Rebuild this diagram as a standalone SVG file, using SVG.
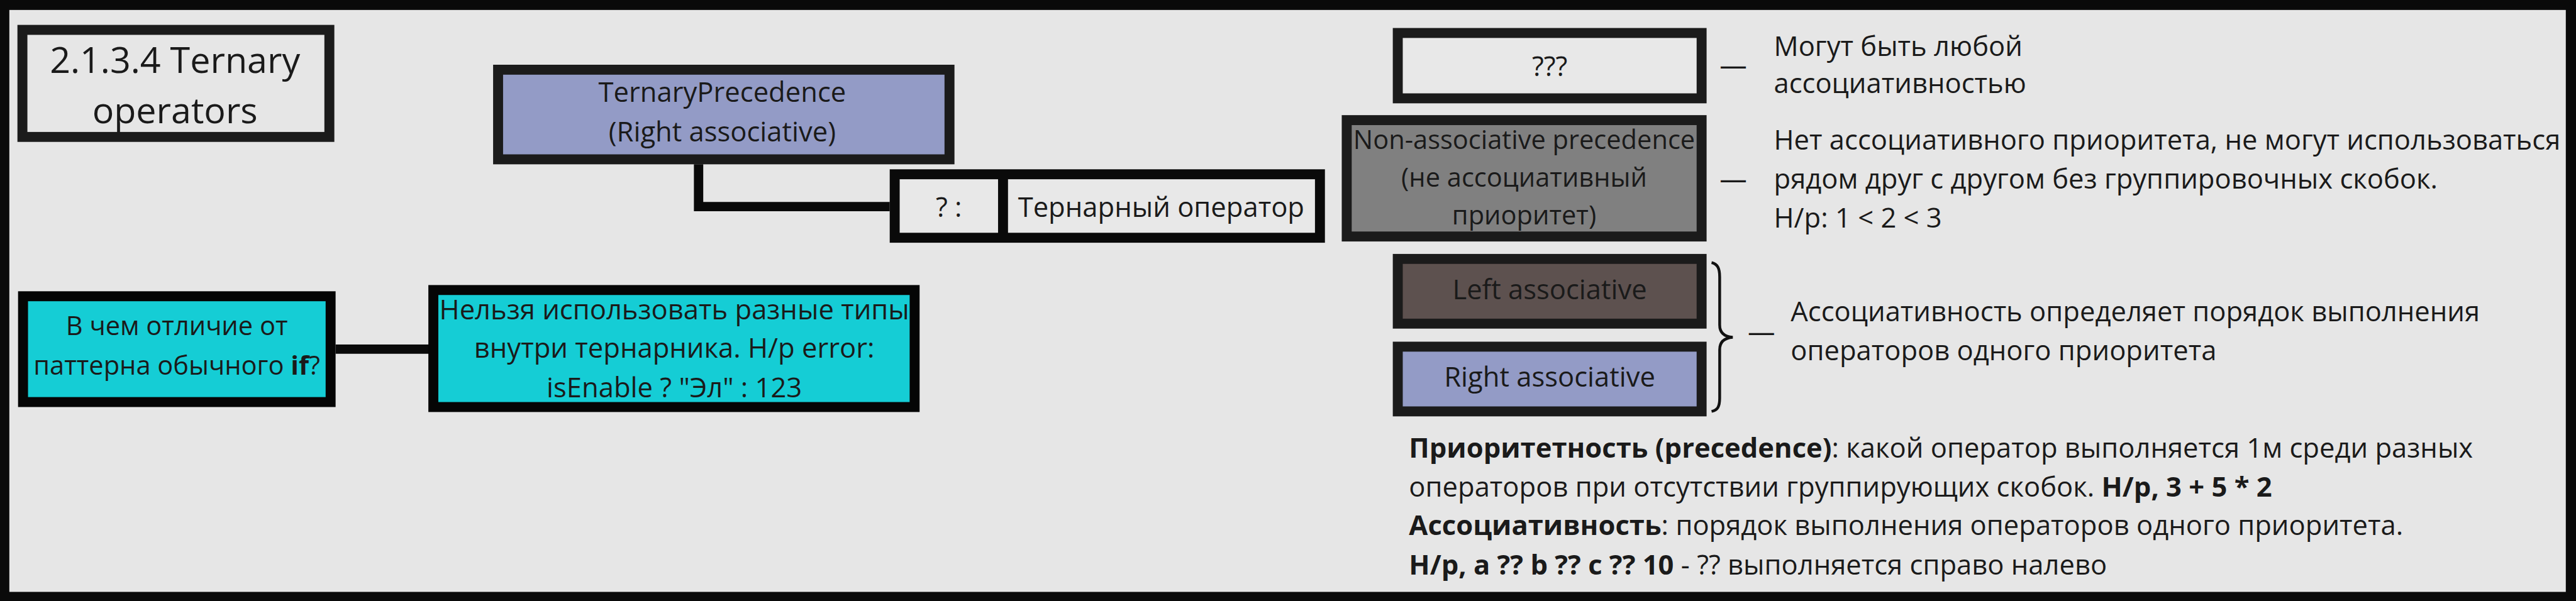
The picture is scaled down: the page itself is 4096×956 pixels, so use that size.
<svg xmlns="http://www.w3.org/2000/svg" width="4096" height="956" viewBox="0 0 4096 956">
<style>
.t{font-family:"Open Sans","Noto Sans","DejaVu Sans",sans-serif;font-size:44px;fill:#1a1a1a}
.s{font-size:42px}
.c{text-anchor:middle}
.b{font-weight:700}
.box{stroke:#1b1b1b;stroke-width:16}
.cy{fill:#15cdd5;stroke:#050505;stroke-width:16}
.con{fill:none;stroke:#0a0a0a;stroke-width:15}
</style>
<rect x="0" y="0" width="4096" height="956" fill="#0a0a0a"/>
<g transform="scale(0.99)">
<rect x="15" y="16" width="4106" height="935" fill="#e6e6e6"/>

<g id="connectors">
<path class="con" d="M1122,264 V332 H1429"/>
<path class="con" d="M539,561 H689"/>
</g>

<g id="title">
<rect class="box" x="36" y="48" width="493" height="172" fill="#e6e6e6"/>
<text class="t c" style="font-size:58px" x="281"><tspan x="281" y="117">2.1.3.4 Ternary</tspan><tspan x="281" y="198">operators</tspan></text>
</g>

<g id="ternary-precedence">
<rect class="box" x="800" y="112" width="725" height="144" fill="#939bc6"/>
<text class="t c" x="1160"><tspan x="1160" y="164">TernaryPrecedence</tspan><tspan x="1160" y="227">(Right associative)</tspan></text>
</g>

<g id="ternary-operator">
<rect x="1429" y="272" width="699" height="118" fill="#0a0a0a"/>
<rect x="1445" y="288" width="158" height="86" fill="#e8e8e8"/>
<rect x="1619" y="288" width="493" height="86" fill="#e8e8e8"/>
<text class="t c" x="1524" y="348">? :</text>
<text class="t c" x="1865" y="348">Тернарный оператор</text>
</g>

<g id="question">
<rect class="cy" x="37" y="476" width="494" height="170"/>
<text class="t s c" x="284"><tspan x="284" y="538">В чем отличие от</tspan><tspan x="284" y="602">паттерна обычного <tspan class="b">if</tspan>?</tspan></text>
</g>

<g id="answer">
<rect class="cy" x="696" y="466" width="773" height="188"/>
<text class="t c" x="1083"><tspan x="1083" y="513">Нельзя использовать разные типы</tspan><tspan x="1083" y="575">внутри тернарника. Н/р error:</tspan><tspan x="1083" y="638">isEnable ? "Эл" : 123</tspan></text>
</g>

<g id="any">
<rect class="box" x="2245" y="53" width="488" height="105" fill="#e8e8e8"/>
<text class="t c" x="2489" y="122">???</text>
</g>

<g id="non-associative">
<rect class="box" x="2163" y="193" width="570" height="187" fill="#808080"/>
<text class="t s c" x="2448"><tspan x="2448" y="239">Non-associative precedence</tspan><tspan x="2448" y="300">(не ассоциативный</tspan><tspan x="2448" y="361">приоритет)</tspan></text>
</g>

<g id="left-associative">
<rect class="box" x="2245" y="416" width="488" height="104" fill="#5d514f"/>
<text class="t c" x="2489" y="481">Left associative</text>
</g>

<g id="right-associative">
<rect class="box" x="2245" y="557" width="488" height="104" fill="#939bc6"/>
<text class="t c" x="2489" y="621">Right associative</text>
</g>

<g id="brace">
<path d="M2749,422 C2759,424 2762,432 2762,445 L2762,522 C2762,535 2770,541 2783,542 C2770,543 2762,549 2762,562 L2762,640 C2762,653 2759,659 2749,661" fill="none" stroke="#111" stroke-width="4.5"/>
</g>

<g id="notes">
<text class="t" x="2762" y="120">—</text>
<text class="t" x="2849"><tspan x="2849" y="90">Могут быть любой</tspan><tspan x="2849" y="150">ассоциативностью</tspan></text>
<text class="t" x="2762" y="303">—</text>
<text class="t" x="2849"><tspan x="2849" y="240">Нет ассоциативного приоритета, не могут использоваться</tspan><tspan x="2849" y="303">рядом друг с другом без группировочных скобок.</tspan><tspan x="2849" y="366">Н/р: 1 &lt; 2 &lt; 3</tspan></text>
<text class="t" x="2807" y="548">—</text>
<text class="t" x="2876"><tspan x="2876" y="516">Ассоциативность определяет порядок выполнения</tspan><tspan x="2876" y="579">операторов одного приоритета</tspan></text>
<text class="t" x="2263"><tspan x="2263" y="735"><tspan class="b">Приоритетность (precedence)</tspan>: какой оператор выполняется 1м среди разных</tspan><tspan x="2263" y="798">операторов при отсутствии группирующих скобок. <tspan class="b">Н/р, 3 + 5 * 2</tspan></tspan><tspan x="2263" y="860"><tspan class="b">Ассоциативность</tspan>: порядок выполнения операторов одного приоритета.</tspan><tspan x="2263" y="923"><tspan class="b">Н/р, a ?? b ?? c ?? 10</tspan> - ?? выполняется справо налево</tspan></text>
</g>
</g>
</svg>
